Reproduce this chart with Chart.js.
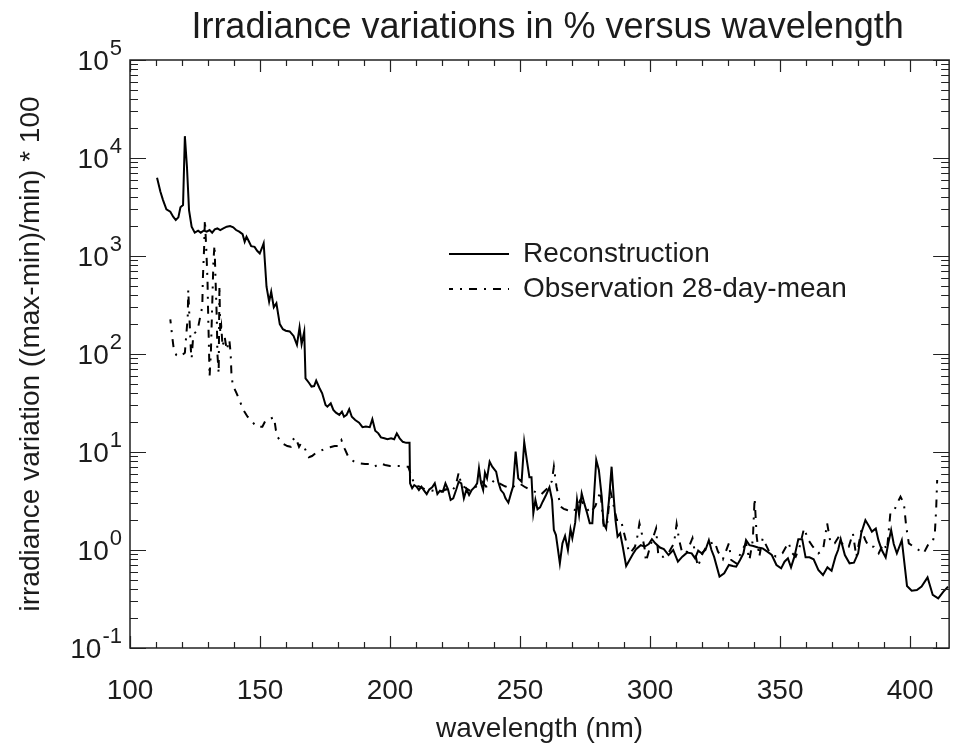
<!DOCTYPE html>
<html><head><meta charset="utf-8">
<script src="https://cdn.jsdelivr.net/npm/chart.js@4.4.0/dist/chart.umd.min.js"></script>
<style>html,body{margin:0;padding:0;background:#fff}</style>
</head><body>
<canvas id="c" width="960" height="744"></canvas>
<script>
const chartTitle = 'Irradiance variations in % versus wavelength';
const xTitle = 'wavelength (nm)';
const yTitle = 'irradiance variation ((max-min)/min) * 100';
const seriesNames = ['Reconstruction', 'Observation 28-day-mean'];
const xTickValues = [100, 150, 200, 250, 300, 350, 400];
const yTickValues = [0.1, 1, 10, 100, 1000, 10000, 100000];
const yTickBase = '10';
const yTickExponents = ['-1', '0', '1', '2', '3', '4', '5'];

const reconWavelength = [110.4,111.7,112.7,114.0,115.5,116.6,117.6,118.6,119.4,120.4,121.1,121.9,122.7,123.7,124.9,126.2,127.2,128.4,129.5,130.6,131.6,132.6,133.6,134.7,135.9,137.2,138.5,139.7,140.8,142.0,143.3,144.1,144.8,145.6,146.6,147.9,148.9,149.9,150.7,151.4,152.5,153.5,154.3,155.3,156.3,157.6,158.8,159.9,161.4,162.9,164.2,165.2,166.0,167.0,167.5,168.8,169.8,170.8,171.6,172.9,173.9,175.2,175.9,177.2,178.2,179.2,180.5,181.5,182.3,183.3,184.3,185.3,186.6,188.1,189.4,190.7,192.2,193.2,194.3,195.5,196.5,197.8,199.0,200.4,201.6,202.6,203.7,204.9,206.2,207.5,207.7,208.5,209.3,210.2,211.1,212.1,213.1,214.1,215.1,216.2,217.2,218.2,219.2,220.3,221.3,222.3,223.3,224.3,225.4,226.4,227.4,228.4,229.4,230.4,231.4,232.5,233.5,234.2,235.0,235.8,236.5,237.3,238.3,239.3,240.8,241.6,242.6,243.7,244.4,245.5,246.5,247.3,248.3,249.3,250.6,251.6,252.6,253.6,254.4,255.1,255.9,256.7,257.7,258.7,260.0,261.3,262.3,263.0,263.8,264.6,265.3,266.3,267.3,268.4,269.4,270.1,271.2,271.9,272.7,273.7,274.7,275.8,276.8,277.8,279.3,280.3,281.4,282.1,283.1,284.2,285.2,286.0,286.7,287.5,288.5,289.5,290.8,292.1,293.4,294.6,296.4,297.9,299.5,300.7,302.0,303.8,305.3,307.1,308.9,310.7,312.4,314.2,316.0,317.3,318.5,319.8,321.3,322.6,323.6,324.6,326.7,328.5,330.3,331.8,333.1,334.6,335.9,336.9,338.2,339.7,341.5,343.3,345.1,346.8,348.6,350.4,351.7,353.0,354.2,355.5,357.0,358.5,359.8,361.3,362.9,364.7,366.5,368.2,369.8,371.3,372.3,373.3,374.9,376.7,378.4,380.0,381.2,382.8,384.3,385.3,386.8,387.8,389.1,390.6,391.6,392.7,393.7,394.9,396.8,398.8,400.6,402.6,404.4,406.7,408.7,410.8,412.8,414.6];
const reconVariation = [6300,4530,3720,2990,2830,2520,2330,2480,3140,3310,16700,8150,2940,1990,1730,1810,1730,1820,1770,1840,1730,1870,1910,1840,1910,1990,2020,1960,1840,1770,1670,1400,1570,1430,1260,1240,1130,1060,1200,1350,486,342,432,299,329,202,179,173,170,153,124,187,126,169,56.5,50.9,46.5,47.1,53.5,44.7,39.7,30.2,29.0,31.4,26.9,25.2,23.9,25.8,22.9,23.9,27.3,22.9,21.2,19.9,17.9,18.2,17.9,21.6,16.5,15.5,14.1,13.8,13.5,13.8,13.5,15.5,13.8,12.7,12.4,12.4,4.79,4.27,4.60,4.43,4.09,4.43,4.03,3.72,4.16,4.37,4.79,3.72,4.03,3.94,4.79,4.16,3.24,3.37,4.09,4.98,4.79,3.37,4.16,3.64,4.09,4.37,4.79,6.81,4.79,4.09,6.15,5.38,7.96,7.08,6.30,4.98,4.09,3.78,3.37,3.04,3.78,4.43,10.1,5.38,4.98,12.7,8.28,5.52,5.52,2.37,3.24,2.60,2.72,3.11,3.64,4.37,3.24,1.60,1.42,1.00,0.731,1.17,1.39,1.00,1.63,1.32,1.90,3.24,2.28,3.78,2.99,2.37,1.87,1.87,8.28,6.55,3.50,1.87,1.66,3.24,7.08,3.50,2.02,1.37,1.48,1.08,0.687,0.791,0.910,1.02,1.12,1.08,1.15,1.29,1.17,1.06,1.02,0.889,1.00,0.760,0.855,0.940,0.925,0.822,0.984,0.925,1.00,1.26,1.00,0.855,0.535,0.578,0.703,0.687,0.676,0.791,0.925,1.26,1.12,1.10,1.06,1.04,0.962,0.889,0.703,0.650,0.760,0.822,0.665,0.855,1.29,1.29,0.841,0.841,0.804,0.625,0.556,0.665,0.615,0.855,1.00,1.29,0.889,0.731,0.743,0.925,1.48,2.02,1.73,1.54,1.66,1.26,1.00,0.841,1.17,1.60,1.15,0.925,1.26,0.430,0.385,0.391,0.423,0.526,0.348,0.321,0.376,0.423];

const obsWavelength = [115.5,116.3,116.8,117.8,118.8,120.1,121.1,122.2,122.4,122.9,123.4,123.7,124.2,124.9,126.0,127.0,127.8,128.0,128.5,128.8,129.3,129.8,130.1,130.3,130.6,131.1,131.6,132.1,132.5,132.9,133.4,133.6,134.1,134.4,134.7,135.1,135.6,136.4,137.2,138.2,138.7,139.0,139.5,141.0,142.3,143.6,145.2,146.5,148.5,150.9,152.2,153.5,155.4,156.1,156.7,158.6,160.5,161.8,162.4,163.7,165.0,165.7,167.2,168.8,170.0,171.6,173.4,175.2,176.9,178.7,180.2,181.3,182.5,183.8,185.3,186.8,188.5,190.4,192.3,194.0,196.2,198.1,200.0,201.9,203.8,205.7,207.0,208.3,209.5,211.4,213.3,215.3,217.5,219.7,221.6,223.5,225.2,226.4,227.4,229.3,231.2,233.7,235.3,236.9,238.5,240.1,242.0,244.2,246.5,248.2,249.7,252.0,254.1,256.0,257.9,260.5,262.2,263.0,264.0,265.6,266.8,268.1,270.6,271.9,273.2,275.0,277.0,279.0,280.9,282.2,283.4,284.7,286.0,287.2,288.8,290.0,291.3,292.3,294.2,295.1,295.9,296.8,298.0,298.4,300.0,302.3,303.2,305.1,307.0,309.2,310.2,311.2,312.4,314.2,316.3,317.2,318.4,320.1,321.6,322.9,324.8,326.1,328.0,330.3,331.2,333.1,335.4,336.9,338.2,339.5,340.2,341.0,342.0,343.3,345.8,348.4,350.9,353.2,354.7,356.0,357.5,359.2,360.9,362.6,364.7,366.5,368.1,369.4,371.0,372.6,374.5,376.4,378.0,379.3,381.3,382.8,384.1,386.0,387.9,389.8,391.1,392.4,393.7,395.0,396.3,397.6,398.5,399.5,401.4,403.3,405.2,407.2,408.7,409.5,410.0,410.4];
const obsVariation = [226,145,114,97.7,94.0,97.7,103,240,450,222,110,90.4,139,163,176,240,304,569,1200,2330,1240,569,222,139,58.7,102,304,910,1290,569,222,102,63.5,500,163,190,119,150,110,139,102,63.5,48.3,39.7,32.7,26.9,22.9,21.2,18.2,18.1,21.2,21.6,22.6,16.7,14.3,12.2,11.5,11.3,13.2,14.1,11.3,12.2,10.9,8.83,9.10,9.84,10.3,10.9,11.2,11.5,11.5,13.2,10.9,9.10,8.28,7.78,7.66,7.55,7.55,7.08,7.66,7.36,7.19,7.19,7.19,7.08,7.08,5.60,4.57,4.43,4.17,4.09,3.98,3.94,4.17,3.94,4.47,6.15,4.60,4.27,3.94,4.60,5.01,4.43,4.57,5.18,4.79,4.47,4.26,4.57,4.79,4.37,4.09,3.89,3.64,4.26,5.01,7.08,4.43,2.77,2.63,2.56,2.46,2.77,3.24,2.82,2.37,2.82,3.98,1.73,1.73,4.09,2.82,2.02,2.02,1.48,1.08,0.925,1.08,1.37,1.87,1.48,1.00,0.760,1.08,1.66,0.855,0.855,0.925,1.17,1.84,1.26,0.925,0.962,1.32,0.962,0.676,0.910,1.08,1.15,1.22,0.962,0.804,1.17,0.791,0.731,1.00,1.17,0.791,1.26,3.37,1.37,0.855,1.32,0.962,0.855,0.925,1.19,0.925,0.855,1.08,1.66,1.26,1.08,0.925,1.00,1.87,1.17,1.17,1.37,1.08,1.08,1.48,0.855,1.60,1.26,1.08,1.08,0.925,1.17,1.00,2.37,2.46,2.99,3.50,2.99,1.73,1.17,1.08,1.00,0.925,1.17,1.22,1.48,2.56,5.18];

const FONT = "'Liberation Sans', Arial, Helvetica, sans-serif";
const INK = '#1c1c1c';

const frameTicks = {
  id: 'frameTicks',
  beforeDraw(chart) {
    const lg = chart.legend;
    if (lg) { lg.left = 442; lg.top = 233; }
    const tb = chart.titleBlock;
    if (tb && !tb._shifted) { tb.left += 8; tb.right += 8; tb._shifted = true; }
  },
  afterUpdate(chart) { if (chart.titleBlock) chart.titleBlock._shifted = false; },
  afterDatasetsDraw(chart) {
    const {ctx, chartArea: a} = chart;
    const xs = chart.scales.x, ys = chart.scales.y;
    ctx.save();
    ctx.strokeStyle = '#222';
    ctx.lineWidth = 1.2;
    ctx.beginPath();
    for (let v = Math.ceil(xs.min / 10) * 10; v <= xs.max + 1e-6; v += 10) {
      const px = Math.round(xs.getPixelForValue(v)) + 0.5;
      const len = v % 50 === 0 ? 12 : 6;
      ctx.moveTo(px, a.bottom); ctx.lineTo(px, a.bottom - len);
      ctx.moveTo(px, a.top); ctx.lineTo(px, a.top + len);
    }
    for (let e = -1; e <= 5; e++) {
      for (let m = 1; m <= 9; m++) {
        const v = m * Math.pow(10, e);
        if (v > ys.max * 1.0001) break;
        const py = Math.round(ys.getPixelForValue(v)) + 0.5;
        const len = m === 1 ? 16 : 8;
        ctx.moveTo(a.left, py); ctx.lineTo(a.left + len, py);
        ctx.moveTo(a.right, py); ctx.lineTo(a.right - len, py);
      }
    }
    ctx.stroke();
    ctx.lineWidth = 1.5;
    ctx.strokeRect(a.left, a.top, a.right - a.left, a.bottom - a.top);
    // y tick labels: base "10" with raised exponent, placed via the y scale
    ctx.fillStyle = INK;
    ctx.textBaseline = 'middle';
    ctx.textAlign = 'right';
    const right = a.left - 8;
    yTickValues.forEach((v, i) => {
      const py = ys.getPixelForValue(v);
      ctx.font = `22px ${FONT}`;
      const ew = ctx.measureText(yTickExponents[i]).width;
      ctx.fillText(yTickExponents[i], right, py - 11);
      ctx.font = `28px ${FONT}`;
      ctx.fillText(yTickBase, right - ew - 1, py + 2);
    });
    ctx.restore();
  }
};

new Chart(document.getElementById('c'), {
  type: 'line',
  data: {
    datasets: [
      {
        label: seriesNames[0],
        data: reconWavelength.map((w, i) => ({x: w, y: reconVariation[i]})),
        borderColor: '#000', backgroundColor: '#000', borderWidth: 2,
        pointRadius: 0, tension: 0
      },
      {
        label: seriesNames[1],
        data: obsWavelength.map((w, i) => ({x: w, y: obsVariation[i]})),
        borderColor: '#000', backgroundColor: '#000', borderWidth: 2,
        borderDash: [8, 7, 2, 7], borderDashOffset: 4,
        pointRadius: 0, tension: 0
      }
    ]
  },
  options: {
    responsive: false, animation: false, devicePixelRatio: 1,
    layout: {padding: {left: 0, right: 3, top: 0, bottom: 0}},
    plugins: {
      title: {
        display: true, text: chartTitle, color: INK, fullSize: false,
        font: {family: FONT, size: 36, weight: 'normal'},
        padding: {top: 6, bottom: 10.8}
      },
      legend: {
        display: true, position: 'chartArea', align: 'start',
        labels: {boxWidth: 60, boxHeight: 0, padding: 7, color: INK,
                 font: {family: FONT, size: 28}}
      },
      tooltip: {enabled: false}
    },
    scales: {
      x: {
        type: 'linear', position: 'bottom', min: 100, max: 415,
        afterBuildTicks: s => { s.ticks = xTickValues.map(v => ({value: v})); },
        afterFit: s => { s.height = 96; },
        grid: {display: false, drawTicks: false},
        border: {display: false},
        ticks: {color: INK, padding: 26, maxRotation: 0, autoSkip: false,
                font: {family: FONT, size: 28}},
        title: {display: true, text: xTitle, color: INK,
                font: {family: FONT, size: 28}, padding: {top: 0, bottom: -2}}
      },
      y: {
        type: 'logarithmic', position: 'left', min: 0.1, max: 100000,
        afterBuildTicks: s => { s.ticks = yTickValues.map(v => ({value: v})); },
        afterFit: s => { s.width = 130; },
        grid: {display: false, drawTicks: false},
        border: {display: false},
        ticks: {display: false},
        title: {display: true, text: yTitle, color: INK,
                font: {family: FONT, size: 28}, padding: {top: 14, bottom: 0}}
      }
    }
  },
  plugins: [frameTicks]
});
</script>
</body></html>
